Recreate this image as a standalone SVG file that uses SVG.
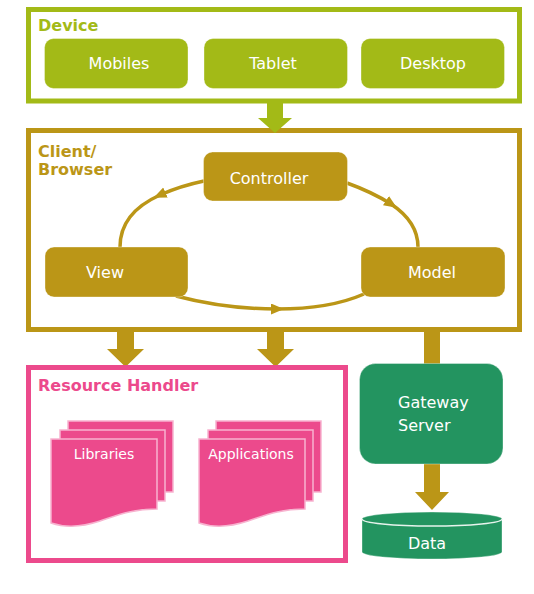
<svg xmlns="http://www.w3.org/2000/svg" width="534" height="594" viewBox="0 0 534 594">
<defs>
<style>
.frame{fill:#fff;stroke-width:5}
.lbl{font-family:"DejaVu Sans",Verdana,sans-serif;font-size:16px;fill:#fff}
.hdr{font-family:"DejaVu Sans",Verdana,sans-serif;font-size:16px;font-weight:bold}
.sm{font-family:"DejaVu Sans",Verdana,sans-serif;font-size:14px;fill:#fff}
.g{fill:#a3ba17}
.au{fill:#bb9617}
.pk{fill:#ec4a8c}
.dg{fill:#239460}
.node{stroke:#fff;stroke-opacity:0.35;stroke-width:1}
.page{fill:#ec4a8c;stroke:#f7b3cf;stroke-width:1.5}
.arc{fill:none;stroke:#bb9617;stroke-width:3.5;marker-mid:url(#tri)}
</style>
<marker id="tri" markerUnits="userSpaceOnUse" markerWidth="14" markerHeight="12" refX="6" refY="5.5" orient="auto">
<path d="M0,0 L13,5.5 L0,11 Z" fill="#bb9617"/>
</marker>
</defs>

<g id="device">
<rect class="frame" x="28.5" y="9.5" width="491" height="91.5" stroke="#a3ba17"/>
<text class="hdr g" x="38" y="31">Device</text>
<g id="mobiles"><rect class="g node" x="44.5" y="38.5" width="143.5" height="50" rx="9"/><text class="lbl" x="119" y="69" text-anchor="middle">Mobiles</text></g>
<g id="tablet"><rect class="g node" x="204" y="38.5" width="143.5" height="50" rx="9"/><text class="lbl" x="273" y="69" text-anchor="middle">Tablet</text></g>
<g id="desktop"><rect class="g node" x="361" y="38.5" width="143.5" height="50" rx="9"/><text class="lbl" x="433" y="69" text-anchor="middle">Desktop</text></g>
</g>

<g id="client">
<rect class="frame" x="28.5" y="130.5" width="491" height="199" stroke="#bb9617"/>
<text class="hdr au" x="38" y="157">Client/</text>
<text class="hdr au" x="38" y="175">Browser</text>
</g>

<g id="connectors">
<polygon class="g" points="267,103 283,103 283,118 292,118 275,133 258,118 267,118"/>
<path class="arc" d="M204,181 Q180,186 160,195 Q120,213 120,247"/>
<path class="arc" d="M347,183 Q372,192 391,204 Q418,222 418,247"/>
<path class="arc" d="M176,296 Q225,309 277,309 Q330,309 364,294"/>
<polygon class="au" points="117,332 134,332 134,349 144,349 125.5,367 107,349 117,349"/>
<polygon class="au" points="267,332 284,332 284,349 294,349 275.5,367 257,349 267,349"/>
<rect class="au" x="424" y="332" width="16" height="32"/>
<polygon class="au" points="424,464 440,464 440,492 449,492 432,510 415,492 424,492"/>
</g>

<g id="controller"><rect class="au node" x="203.5" y="152" width="144" height="49" rx="9"/><text class="lbl" x="269" y="184" text-anchor="middle">Controller</text></g>
<g id="view"><rect class="au node" x="45" y="247" width="143" height="50" rx="9"/><text class="lbl" x="105" y="278" text-anchor="middle">View</text></g>
<g id="model"><rect class="au node" x="361" y="247" width="144" height="50" rx="9"/><text class="lbl" x="432" y="278" text-anchor="middle">Model</text></g>

<g id="resource-handler">
<rect class="frame" x="28.5" y="367.5" width="317" height="193" stroke="#ec4a8c"/>
<text class="hdr pk" x="38" y="391">Resource Handler</text>
</g>

<g id="libraries">
<rect class="page" x="68" y="421" width="105" height="71"/>
<rect class="page" x="60" y="430" width="105" height="71"/>
<path class="page" d="M51,439 H157 V509 C132,509 118,515 100,521 C82,527 66,528 51,523 Z"/>
<text class="sm" x="104" y="459" text-anchor="middle">Libraries</text>
</g>

<g id="applications" transform="translate(148,0)">
<rect class="page" x="68" y="421" width="105" height="71"/>
<rect class="page" x="60" y="430" width="105" height="71"/>
<path class="page" d="M51,439 H157 V509 C132,509 118,515 100,521 C82,527 66,528 51,523 Z"/>
<text class="sm" x="103" y="459" text-anchor="middle">Applications</text>
</g>

<g id="gateway">
<rect class="dg node" x="359.5" y="363.5" width="143.5" height="100.5" rx="16"/>
<text class="lbl" x="398" y="408">Gateway</text>
<text class="lbl" x="398" y="431">Server</text>
</g>

<g id="data">
<path class="dg" d="M362,519 A70,7 0 0 1 502,519 V552 A70,7 0 0 1 362,552 Z" stroke="#fff" stroke-opacity="0.35" stroke-width="1"/>
<path d="M362,519 A70,7 0 0 0 502,519" fill="none" stroke="#e6f3ec" stroke-width="1.5"/>
<text class="lbl" x="427" y="549" text-anchor="middle">Data</text>
</g>
</svg>
